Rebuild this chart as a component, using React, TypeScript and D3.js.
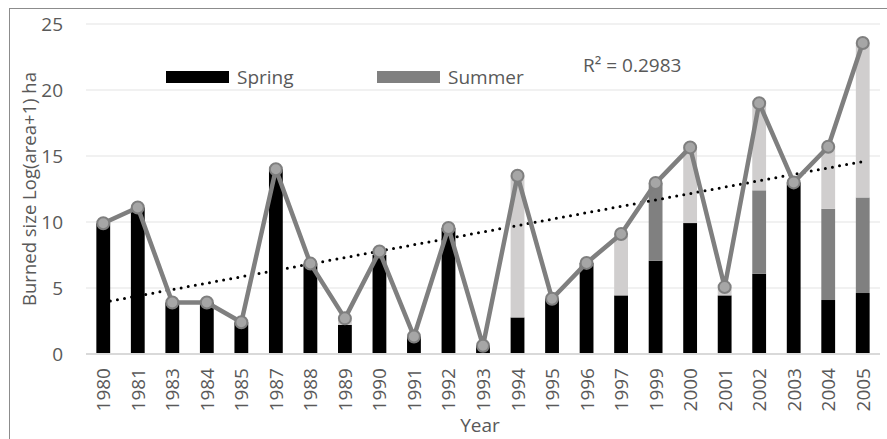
import React from "react";
import * as d3 from "d3";

const years = ["1980","1981","1983","1984","1985","1987","1988","1989","1990","1991","1992","1993","1994","1995","1996","1997","1999","2000","2001","2002","2003","2004","2005"];
const spring = [9.9, 11.1, 3.9, 3.9, 2.4, 14.0, 6.85, 2.2, 7.5, 1.33, 9.55, 0.63, 2.77, 4.19, 6.9, 4.44, 7.07, 9.92, 4.44, 6.08, 13.0, 4.09, 4.62];
const summer = [0, 0, 0, 0, 0, 0, 0, 0, 0, 0, 0, 0, 0, 0, 0, 0, 5.88, 0, 0, 6.32, 0, 6.91, 7.24];
const autumn = [0, 0, 0, 0, 0, 0, 0, 0.5, 0.27, 0, 0, 0, 10.73, 0, 0, 4.65, 0, 5.73, 0.63, 6.6, 0, 4.7, 11.7];
const yTicks = [0, 5, 10, 15, 20, 25];
const seriesNames = ["Spring", "Summer"];
const r2Label = "R² = 0.2983";

const W = 887, H = 439;
const left = 86, right = 880, top = 24, bottom = 354;
const FONT = "'Open Sans', 'Noto Sans', sans-serif";
const TXT = "#595959";

export default function App() {
  const x = d3.scaleBand<string>().domain(years).range([left, right]).paddingInner(0.6).paddingOuter(0.3);
  const y = d3.scaleLinear().domain([0, 25]).range([bottom, top]);
  const totals = years.map((_, i) => spring[i] + summer[i] + autumn[i]);

  // linear trend
  const n = totals.length;
  const idx = totals.map((_, i) => i);
  const mx = d3.mean(idx)!;
  const my = d3.mean(totals)!;
  const slope = d3.sum(idx.map((i) => (i - mx) * (totals[i] - my))) / d3.sum(idx.map((i) => (i - mx) ** 2));
  const intercept = my - slope * mx;
  const cx = (i: number) => x(years[i])! + x.bandwidth() / 2;

  const stackData = years.map((yr, i) => ({ yr, spring: spring[i], summer: summer[i], autumn: autumn[i] }));
  const stack = d3.stack<any>().keys(["spring", "summer", "autumn"])(stackData);
  const colors: Record<string, string> = { spring: "#000000", summer: "#808080", autumn: "#d0cece" };

  const line = d3.line<number>().x((_, i) => cx(i)).y((d) => y(d));

  return (
    <svg width={W} height={H} style={{ position: "absolute", left: 0, top: 0 }} fontFamily={FONT}>
      <rect x={0} y={0} width={W} height={H} fill="#fff" />
      <line x1={9} x2={W} y1={8.5} y2={8.5} stroke="#8c8c8c" />
      <line x1={9.5} x2={9.5} y1={8} y2={H} stroke="#8c8c8c" />
      {yTicks.filter((t) => t > 0).map((t) => (
        <line key={t} x1={left} x2={right} y1={y(t)} y2={y(t)} stroke="#e3e3e3" strokeWidth={1} />
      ))}
      {yTicks.map((t) => (
        <text key={t} x={63} y={y(t)} textAnchor="end" dominantBaseline="central" fontSize={19} fill={TXT}>{t}</text>
      ))}
      {stack.map((s) => (
        <g key={s.key} fill={colors[s.key]}>
          {s.map((d, i) => (
            <rect key={i} x={x(years[i])} width={x.bandwidth()} y={y(d[1])} height={Math.max(0, y(d[0]) - y(d[1]))} />
          ))}
        </g>
      ))}
      <line x1={left} x2={right} y1={bottom} y2={bottom} stroke="#d9d9d9" strokeWidth={2} />
      <line x1={cx(0)} x2={cx(n - 1)} y1={y(intercept)} y2={y(intercept + slope * (n - 1))} stroke="#000" strokeWidth={3} strokeDasharray="0 7.2" strokeLinecap="round" />
      <path d={line(totals)!} fill="none" stroke="#7f7f7f" strokeWidth={4.5} strokeLinejoin="round" />
      {totals.map((t, i) => (
        <circle key={i} cx={cx(i)} cy={y(t)} r={6} fill="#a6a6a6" stroke="#7f7f7f" strokeWidth={2} />
      ))}
      {years.map((yr, i) => (
        <text key={yr} transform={`translate(${cx(i)},${368}) rotate(-90)`} textAnchor="end" dominantBaseline="central" fontSize={19} fill={TXT}>{yr}</text>
      ))}
      <text x={480} y={425} textAnchor="middle" dominantBaseline="central" fontSize={19} fill={TXT}>Year</text>
      <text transform={`translate(28,${(top + bottom) / 2}) rotate(-90)`} textAnchor="middle" dominantBaseline="central" fontSize={18.5} fill={TXT}>Burned size Log(area+1) ha</text>
      {seriesNames.map((nm, i) => (
        <g key={nm} transform={`translate(${166 + i * 211},71)`}>
          <rect x={0} y={0} width={63} height={12} fill={i === 0 ? colors.spring : colors.summer} />
          <text x={71} y={6} dominantBaseline="central" fontSize={19} fill={TXT}>{nm}</text>
        </g>
      ))}
      <text x={583} y={65} dominantBaseline="central" fontSize={19} fill={TXT}>{r2Label}</text>
    </svg>
  );
}
